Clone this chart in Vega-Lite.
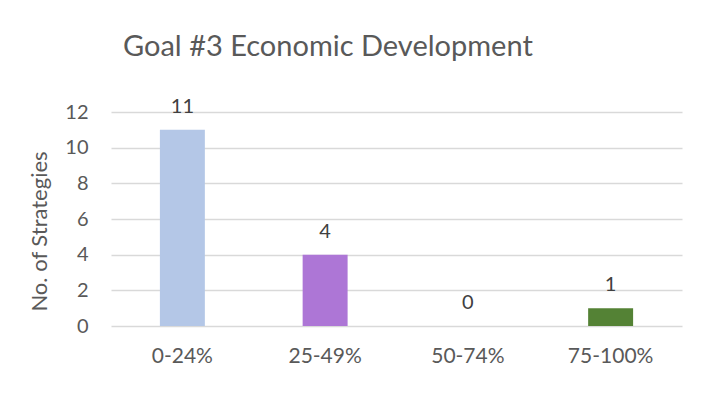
{
  "$schema": "https://vega.github.io/schema/vega-lite/v6.json",
  "width": 571,
  "height": 214,
  "autosize": {"type": "none"},
  "padding": {"left": 111, "top": 112, "right": 19, "bottom": 67},
  "background": "#ffffff",
  "config": {
    "font": "Lato",
    "view": {"stroke": null}
  },
  "title": {
    "text": "Goal #3 Economic Development",
    "anchor": "start",
    "frame": "group",
    "dx": 12,
    "offset": 12,
    "baseline": "alphabetic",
    "fontSize": 29,
    "fontWeight": "normal",
    "color": "#595959",
    "font": "Lato"
  },
  "data": {
    "values": [
      {"range": "0-24%", "count": 11, "color": "#b4c7e7"},
      {"range": "25-49%", "count": 4, "color": "#ad76d6"},
      {"range": "50-74%", "count": 0, "color": "#ffffff"},
      {"range": "75-100%", "count": 1, "color": "#548235"}
    ]
  },
  "encoding": {
    "x": {
      "field": "range",
      "type": "nominal",
      "sort": null,
      "scale": {"paddingInner": 0.685, "paddingOuter": 0.3425},
      "axis": {
        "title": null,
        "labelAngle": 0,
        "ticks": false,
        "domain": false,
        "labelPadding": 19,
        "labelFontSize": 21,
        "labelColor": "#595959",
        "labelFont": "Lato"
      }
    },
    "y": {
      "field": "count",
      "type": "quantitative",
      "scale": {"domain": [0, 12], "nice": false},
      "axis": {
        "title": "No. of Strategies",
        "values": [0, 2, 4, 6, 8, 10, 12],
        "ticks": false,
        "domain": false,
        "labelPadding": 23,
        "labelFontSize": 20,
        "labelColor": "#595959",
        "labelFont": "Lato",
        "gridColor": "#d9d9d9",
        "gridWidth": 1.3,
        "titleFontSize": 22,
        "titleFontWeight": "normal",
        "titleColor": "#595959",
        "titleFont": "Lato",
        "titleX": -72,
        "titleY": 119,
        "titleAngle": -90,
        "titleAlign": "center",
        "titleBaseline": "middle"
      }
    }
  },
  "layer": [
    {
      "mark": {"type": "bar"},
      "encoding": {
        "color": {"field": "color", "type": "nominal", "scale": null}
      }
    },
    {
      "mark": {"type": "text", "baseline": "bottom", "dy": -13, "fontSize": 20, "color": "#404040", "font": "Lato"},
      "encoding": {
        "text": {"field": "count", "type": "quantitative"}
      }
    }
  ]
}
